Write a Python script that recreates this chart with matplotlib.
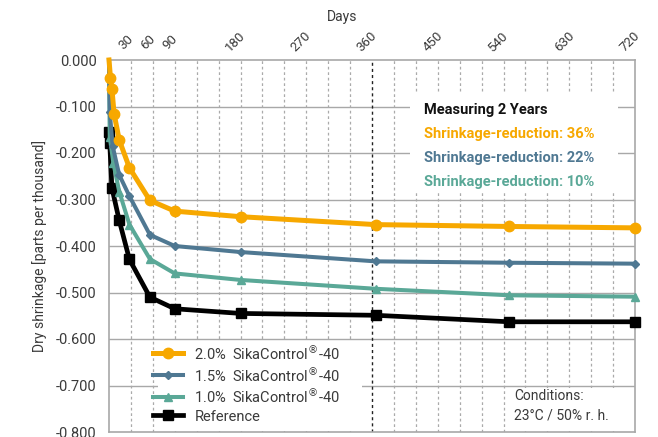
import matplotlib
matplotlib.use("Agg")
import matplotlib.pyplot as plt
import matplotlib.transforms as mtransforms
from matplotlib.patches import Rectangle

# ---------------- data ----------------
days_20 = [0, 2, 4, 7, 14, 28, 56, 90, 180, 365, 548, 720]
vals_20 = [0.0, -0.038, -0.062, -0.116, -0.172, -0.232, -0.302, -0.325, -0.337, -0.354, -0.358, -0.361]

days_15 = [0, 1, 5, 14, 28, 56, 90, 180, 365, 548, 720]
vals_15 = [0.0, -0.111, -0.185, -0.247, -0.293, -0.376, -0.400, -0.413, -0.433, -0.436, -0.438]

days_10 = [0, 1, 6, 14, 28, 56, 90, 180, 365, 548, 720]
vals_10 = [0.0, -0.165, -0.222, -0.283, -0.354, -0.428, -0.459, -0.473, -0.492, -0.506, -0.509]

days_ref = [0, 1, 4, 14, 28, 56, 90, 180, 365, 548, 720]
vals_ref = [-0.154, -0.179, -0.275, -0.345, -0.429, -0.510, -0.535, -0.545, -0.549, -0.563, -0.563]

series_labels = ["2.0%  SikaControl$^{®}$-40", "1.5%  SikaControl$^{®}$-40",
                 "1.0%  SikaControl$^{®}$-40", "Reference"]
x_tick_labels = [30, 60, 90, 180, 270, 360, 450, 540, 630, 720]
y_ticks = [0.0, -0.1, -0.2, -0.3, -0.4, -0.5, -0.6, -0.7, -0.8]
reduction_texts = ["Shrinkage-reduction: 36%", "Shrinkage-reduction: 22%", "Shrinkage-reduction: 10%"]

ORANGE = "#F7A800"
BLUE = "#4F7892"
TEAL = "#5AA897"
BLACK = "#000000"
TXT = "#3a3a3a"

plt.rcParams['font.family'] = ['Roboto', 'DejaVu Sans']
plt.rcParams['mathtext.fontset'] = 'dejavusans'

W, H = 658, 437
fig = plt.figure(figsize=(W / 100, H / 100), dpi=100)
L, R, T, B = 109, 635, 60, 432
ax = fig.add_axes([L / W, 1 - B / H, (R - L) / W, (B - T) / H])
ax.set_xlim(0, 720)
ax.set_ylim(-0.8, 0.0)

# grid
for yv in y_ticks[1:-1]:
    ax.axhline(yv, color="#a8a8a8", lw=1.0, zorder=0.5)
for xv in range(30, 720, 30):
    if xv == 360:
        ax.axvline(xv, color="#222222", lw=1.0, ls=(0, (2.2, 2.2)), zorder=0.6)
    else:
        ax.axvline(xv, color="#aaaaaa", lw=0.9, ls=(0, (2.2, 2.2)), zorder=0.5)

for s in ax.spines.values():
    s.set_color("#a8a8a8")
    s.set_linewidth(1.2)

ax.tick_params(length=0)
ax.set_xticks([])
ax.set_yticks(y_ticks)
ax.set_yticklabels(["%.3f" % v if v == 0 else ("-%.3f" % abs(v)) for v in y_ticks],
                   fontsize=10.5, color=TXT)
ax.tick_params(axis='y', pad=9)

# top rotated x labels
trans = mtransforms.blended_transform_factory(ax.transData, ax.transAxes)
for xv in x_tick_labels:
    off = mtransforms.offset_copy(trans, fig=fig, x=-5, y=18, units='dots')
    ax.text(xv, 1.0, str(xv), transform=off, rotation=45, ha='center', va='center',
            fontsize=9.5, color=TXT)
fig.text(342 / W, 1 - 17 / H, "Days", ha='center', va='center', fontsize=10, color=TXT)

ax.set_ylabel("Dry shrinkage [parts per thousand]", fontsize=10, color=TXT, labelpad=6)

# white boxes (pixel coords -> axes coords)
def px_box(x0, y0, x1, y1):
    bx0 = (x0 - L) / (R - L)
    bx1 = (x1 - L) / (R - L)
    by0 = (B - y1) / (B - T)
    by1 = (B - y0) / (B - T)
    ax.add_patch(Rectangle((bx0, by0), bx1 - bx0, by1 - by0, transform=ax.transAxes,
                           facecolor="white", edgecolor="none", zorder=1))

px_box(410, 93, 618, 192)
px_box(158, 341, 362, 431)
px_box(510, 388, 634, 431)

# series
l20, = ax.plot(days_20, vals_20, color=ORANGE, lw=3.6, marker='o', ms=7.5,
               markevery=list(range(1, len(days_20))), zorder=6, clip_on=False,
               label=series_labels[0])
l15, = ax.plot(days_15, vals_15, color=BLUE, lw=2.9, marker='D', ms=4.2,
               markevery=list(range(1, len(days_15))), zorder=5, clip_on=False,
               label=series_labels[1])
l10, = ax.plot(days_10, vals_10, color=TEAL, lw=2.9, marker='^', ms=5.5,
               markevery=list(range(1, len(days_10))), zorder=4, clip_on=False,
               label=series_labels[2])
lref, = ax.plot(days_ref, vals_ref, color=BLACK, lw=3.4, marker='s', ms=7.5,
                zorder=3, clip_on=False, label=series_labels[3])

leg = ax.legend(handles=[l20, l15, l10, lref], loc='upper left',
                bbox_to_anchor=((152 - L) / (R - L), (B - 342) / (B - T)),
                frameon=False, fontsize=10.5, handlelength=2.0, handletextpad=0.8,
                handleheight=1.3, labelspacing=0.15, borderpad=0.1, borderaxespad=0)
for t in leg.get_texts():
    t.set_color(TXT)

# annotation texts
def ftxt(x, y, s, **kw):
    fig.text(x / W, 1 - y / H, s, ha='left', va='center', **kw)

ftxt(424, 110, "Measuring 2 Years", fontsize=10.5, fontweight='bold', color="#111111")
ftxt(424, 134, reduction_texts[0], fontsize=10.5, fontweight='bold', color=ORANGE)
ftxt(424, 158, reduction_texts[1], fontsize=10.5, fontweight='bold', color=BLUE)
ftxt(424, 182, reduction_texts[2], fontsize=10.5, fontweight='bold', color=TEAL)
ftxt(514, 396, "Conditions:", fontsize=10, color=TXT)
ftxt(514, 415, "23°C / 50% r. h.", fontsize=10, color=TXT)

fig.savefig("out.png", dpi=100)
